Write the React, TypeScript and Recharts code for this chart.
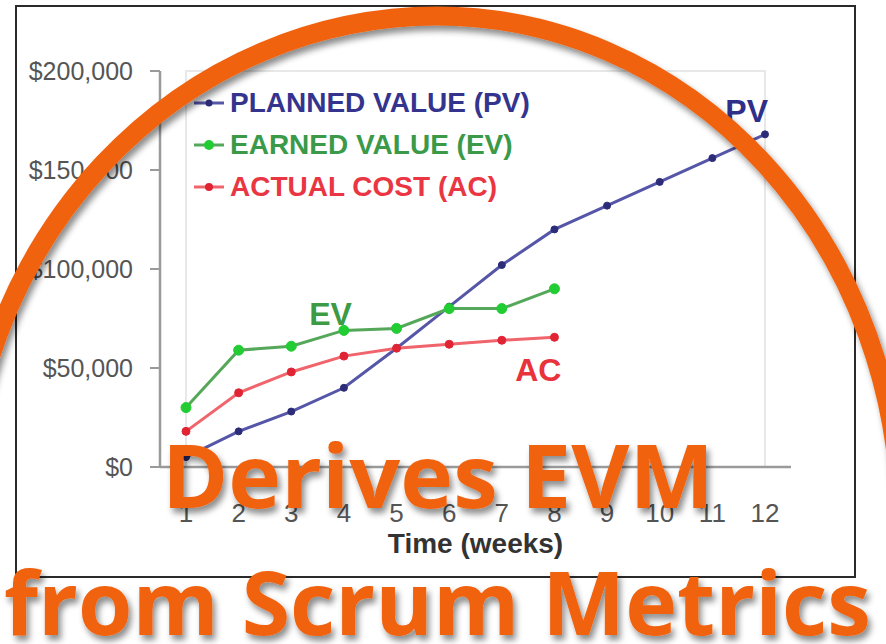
import React from "react";
import {
  LineChart,
  Line,
  XAxis,
  YAxis,
  Legend,
  ReferenceArea,
  ReferenceDot,
} from "recharts";

const weeks = [1, 2, 3, 4, 5, 6, 7, 8, 9, 10, 11, 12];
const plannedValue = [5000, 18000, 28000, 40000, 60000, 81000, 102000, 120000, 132000, 144000, 156000, 168000];
const earnedValue = [30000, 59000, 61000, 69000, 70000, 80000, 80000, 90000];
const actualCost = [18000, 37500, 48000, 56000, 60000, 62000, 64000, 65500];
const yTicks = [0, 50000, 100000, 150000, 200000];

const series = [
  { key: "pv", name: "PLANNED VALUE (PV)", line: "#5656a8", dot: "#2c2c78", text: "#34348e", r: 3.5 },
  { key: "ev", name: "EARNED VALUE (EV)", line: "#55a85a", dot: "#22cc33", text: "#3a9a48", r: 5 },
  { key: "ac", name: "ACTUAL COST (AC)", line: "#f0646c", dot: "#e02434", text: "#ea3642", r: 4 },
];

// end labels next to the lines
const tags = [
  { text: "PV", week: 12, value: 180000, dx: 3, color: "#2f2f8a" },
  { text: "EV", week: 4, value: 77500, dx: 8, color: "#3d9a45" },
  { text: "AC", week: 8, value: 49000, dx: 7, color: "#e8323c" },
];

const data = weeks.map((w, i) => ({
  week: w,
  pv: plannedValue[i],
  ev: earnedValue[i] ?? null,
  ac: actualCost[i] ?? null,
}));

const font = "'Liberation Sans', Arial, sans-serif";
const orange = "#f0620f";

// upper half of the big orange ring (left side a bit wider than right)
const ring = { cx: 437, cy: 520, rxLeft: 472, rxRight: 463, ry: 504 };
const ringPath =
  `M ${ring.cx - ring.rxLeft} ${ring.cy} ` +
  `A ${ring.rxLeft} ${ring.ry} 0 0 1 ${ring.cx} ${ring.cy - ring.ry} ` +
  `A ${ring.rxRight} ${ring.ry} 0 0 1 ${ring.cx + ring.rxRight} ${ring.cy}`;

function formatMoney(v: number) {
  return `$${v.toLocaleString("en-US")}`;
}

function LegendBox() {
  return (
    <div style={{ fontFamily: font }}>
      {series.map((s) => (
        <div key={s.key} style={{ display: "flex", alignItems: "center", height: 42 }}>
          <svg width={38} height={12}>
            <line x1={2} y1={6} x2={32} y2={6} stroke={s.line} strokeWidth={3} />
            <circle cx={17} cy={6} r={s.r} fill={s.dot} />
          </svg>
          <span style={{ color: s.text, fontSize: 28, fontWeight: 700, lineHeight: "28px" }}>{s.name}</span>
        </div>
      ))}
    </div>
  );
}

export default function App() {
  return (
    <div style={{ position: "absolute", left: 0, top: 0, width: 886, height: 644, background: "#fff", overflow: "hidden" }}>
      <div
        style={{
          position: "absolute",
          left: 15,
          top: 5,
          width: 837,
          height: 569,
          border: "2px solid #2a2a2a",
          background: "#fff",
        }}
      />
      <div style={{ position: "absolute", left: 0, top: 0 }}>
        <LineChart
          width={886}
          height={644}
          data={data}
          margin={{ top: 71, right: 95, left: 0, bottom: 77 }}
        >
          <ReferenceArea y1={0} y2={200000} fill="none" stroke="#e8e8e8" strokeWidth={2} />
          <XAxis
            dataKey="week"
            type="category"
            interval={0}
            padding={{ left: 26, right: 26 }}
            height={100}
            tickLine={false}
            tickSize={0}
            tickMargin={37}
            axisLine={{ stroke: "#9a9a9a", strokeWidth: 2.5 }}
            tick={{ fill: "#555", fontSize: 26, fontFamily: font }}
            label={{
              value: "Time (weeks)",
              position: "insideBottom",
              offset: 14,
              fill: "#333",
              fontSize: 28,
              fontWeight: 700,
              fontFamily: font,
            }}
          />
          <YAxis
            width={160}
            domain={[0, 200000]}
            ticks={yTicks}
            tickSize={10}
            tickMargin={17}
            tickFormatter={formatMoney}
            axisLine={{ stroke: "#9a9a9a", strokeWidth: 2.5 }}
            tickLine={{ stroke: "#9a9a9a", strokeWidth: 2 }}
            tick={{ fill: "#555", fontSize: 25, fontFamily: font }}
          />
          <Legend
            layout="vertical"
            verticalAlign="middle"
            align="center"
            content={<LegendBox />}
            wrapperStyle={{ left: 192, top: 82, width: 400 }}
          />
          {series.map((s) => (
            <Line
              key={s.key}
              dataKey={s.key}
              name={s.name}
              stroke={s.line}
              strokeWidth={3}
              dot={{ r: s.r, fill: s.dot, stroke: s.dot, strokeWidth: 1 }}
              activeDot={false}
              connectNulls={false}
              isAnimationActive={false}
            />
          ))}
          {tags.map((t) => (
            <ReferenceDot
              key={t.text}
              x={t.week}
              y={t.value}
              r={0}
              fill="none"
              stroke="none"
              label={{
                content: ({ viewBox }: any) => (
                  <text
                    x={viewBox.x + t.dx}
                    y={viewBox.y}
                    textAnchor="end"
                    dominantBaseline="central"
                    fill={t.color}
                    fontSize={32}
                    fontWeight={700}
                    fontFamily={font}
                  >
                    {t.text}
                  </text>
                ),
              }}
            />
          ))}
        </LineChart>
      </div>
      <svg
        width={886}
        height={644}
        style={{ position: "absolute", left: 0, top: 0, pointerEvents: "none" }}
      >
        <defs>
          <filter id="shadow" x="-10%" y="-10%" width="120%" height="120%">
            <feDropShadow dx={3} dy={5} stdDeviation={3} floodColor="#000" floodOpacity={0.45} />
          </filter>
        </defs>
        <path d={ringPath} fill="none" stroke={orange} strokeWidth={19} filter="url(#shadow)" />
        <g filter="url(#shadow)" fontFamily="'Open Sans', sans-serif" fontWeight={700} fill={orange} fontSize={88}>
          <text x={162} y={508} textLength={552} lengthAdjust="spacingAndGlyphs">
            Derives EVM
          </text>
          <text x={4} y={635} textLength={867} lengthAdjust="spacingAndGlyphs">
            from Scrum Metrics
          </text>
        </g>
      </svg>
    </div>
  );
}
